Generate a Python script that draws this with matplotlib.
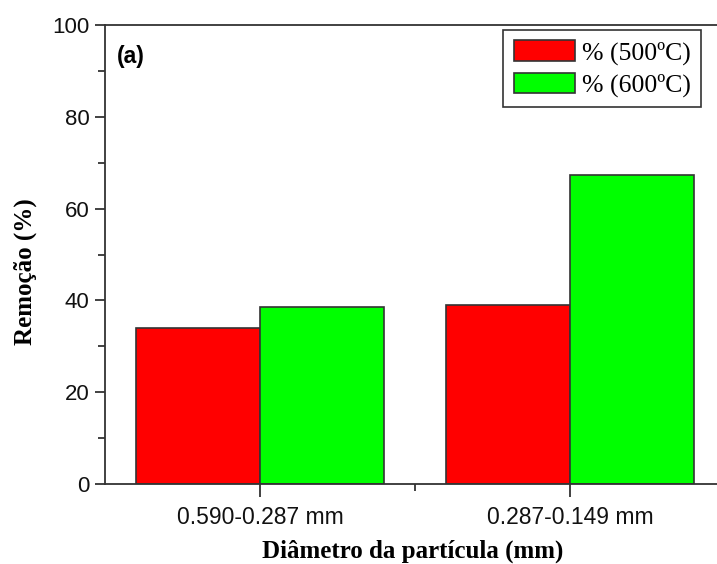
import matplotlib
matplotlib.use("Agg")
import matplotlib.pyplot as plt
from matplotlib.ticker import MultipleLocator, FixedLocator
import numpy as np

# Data
categories = ["0.590-0.287 mm", "0.287-0.149 mm"]
removal_500 = [33.9, 39.0]
removal_600 = [38.6, 67.3]
series_labels = ["% (500ºC)", "% (600ºC)"]
y_ticks = [0, 20, 40, 60, 80, 100]

W, H = 717, 564
fig = plt.figure(figsize=(W / 100, H / 100), dpi=100)

# Axes rectangle (right end runs past the figure edge)
left, right, top, bottom = 105, 725, 25, 484
ax = fig.add_axes([left / W, 1 - bottom / H, (right - left) / W, (bottom - top) / H])

x = np.arange(1, len(categories) + 1)
width = 0.4
edge = "#333333"
ax.bar(x - width / 2, removal_500, width, color="#ff0000", edgecolor=edge,
       linewidth=1.2, label=series_labels[0], zorder=2)
ax.bar(x + width / 2, removal_600, width, color="#00ff00", edgecolor=edge,
       linewidth=1.2, label=series_labels[1], zorder=2)

ax.set_xlim(0.5, 2.5)
ax.set_ylim(0, 100)

for s in ax.spines.values():
    s.set_color(edge)
    s.set_linewidth(1.3)

ax.set_yticks(y_ticks)
ax.set_yticklabels([str(v) for v in y_ticks], family="Liberation Sans",
                   size=16, color="#111111")
ax.yaxis.set_minor_locator(MultipleLocator(10))
ax.set_xticks(x)
ax.set_xticklabels(categories, family="Liberation Sans", size=16.5,
                   color="#111111")
ax.xaxis.set_minor_locator(FixedLocator([1.5, 2.5]))
ax.tick_params(axis="both", which="major", direction="out", length=7,
               width=1.3, color=edge, pad=4)
ax.tick_params(axis="both", which="minor", direction="out", length=5,
               width=1.3, color=edge)
ax.tick_params(axis="x", which="major", length=9, pad=7)
ax.tick_params(top=False, right=False, which="both")

ax.set_ylabel("Remoção (%)", family="Liberation Serif", fontweight="bold",
              fontsize=18)
ax.yaxis.set_label_coords(-(left - 25) / (right - left), (bottom - 272) / (bottom - top))
ax.yaxis.label.set_va("center")
ax.set_xlabel("Diâmetro da partícula (mm)", family="Liberation Serif",
              fontweight="bold", fontsize=18)
ax.xaxis.set_label_coords((413 - left) / (right - left), -(563 - bottom) / (bottom - top))
ax.xaxis.label.set_va("bottom")

fig.text(117 / W, 1 - 56 / H, "(a)", fontsize=16.5, fontweight="bold",
         family="Liberation Sans", va="center", ha="left")

leg = fig.legend(loc="upper right", bbox_to_anchor=(701 / W, 1 - 30 / H),
                 prop=dict(family="Liberation Serif", size=18.5),
                 frameon=True, fancybox=False, edgecolor="#333333",
                 framealpha=1, handlelength=2.4, handleheight=0.85,
                 handletextpad=0.25, labelspacing=0.3, borderpad=0.4,
                 borderaxespad=0)
leg.get_frame().set_linewidth(1.2)

fig.savefig("out.png", dpi=100)
